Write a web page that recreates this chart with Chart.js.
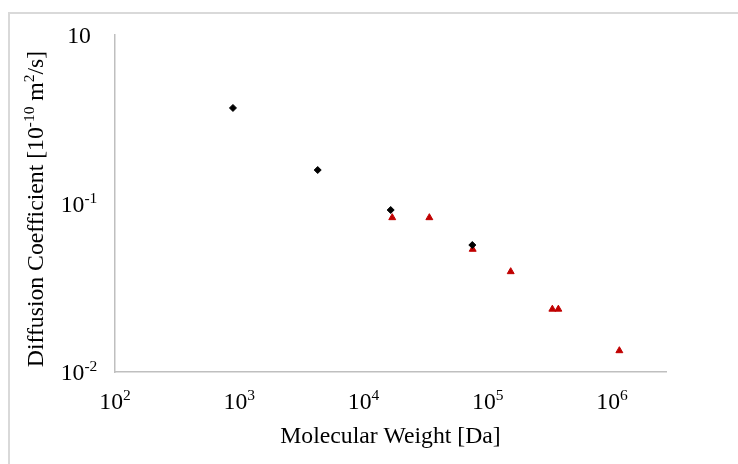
<!DOCTYPE html>
<html lang="en">
<head>
  <meta charset="UTF-8">
  <title>Diffusion Coefficient vs Molecular Weight</title>
  <script src="https://cdn.jsdelivr.net/npm/chart.js@4"></script>
  <style>
    html, body { margin: 0; padding: 0; background: #fff; overflow: hidden; }
    .frame {
      position: absolute; left: 8px; top: 12px; width: 760px; height: 480px;
      border-top: 2px solid #d9d9d9; border-left: 2px solid #d9d9d9;
    }
    .wrap { position: absolute; left: 0; top: 0; width: 738px; height: 464px; }
  </style>
</head>
<body>
  <div class="frame"></div>
  <div class="wrap"><canvas id="chart" width="738" height="464"></canvas></div>

  <script>
    // molecular weight [Da] and diffusion coefficient [1e-10 m2/s]
    const blackMW = [890, 4280, 16550, 75100];
    const blackD = [0.369, 0.158, 0.0915, 0.0567];

    const redMW = [17030, 33880, 75650, 153000, 331000, 370000, 1146000];
    const redD = [0.0824, 0.0824, 0.0535, 0.0394, 0.0236, 0.0236, 0.01338];

    // tick labels are "10" with a superscript exponent
    const xTicks = [1e2, 1e3, 1e4, 1e5, 1e6];
    const xTickExp = ['2', '3', '4', '5', '6'];
    const yTicks = [0.01, 0.1, 1];
    const yTickExp = ['-2', '-1', ''];

    const xTitle = 'Molecular Weight [Da]';
    const yTitleParts = [['Diffusion Coefficient [10', false], ['-10', true], [' m', false], ['2', true], ['/s]', false]];

    const serif = 'Liberation Serif, Times New Roman, serif';
    const F = 23.7;           // base font size
    const S = 15.5;           // superscript size
    const RISE = 9;           // superscript raise

    const toPoints = (xs, ys) => xs.map((x, i) => ({ x: x, y: ys[i] }));

    // draws a run of [text, isSup] parts starting at x, baseline y
    function richWidth(c, parts) {
      let w = 0;
      parts.forEach(([t, sup]) => {
        c.font = (sup ? S : F) + 'px ' + serif;
        w += c.measureText(t).width;
      });
      return w;
    }
    function drawRich(c, parts, x, y) {
      c.textAlign = 'left';
      c.textBaseline = 'alphabetic';
      parts.forEach(([t, sup]) => {
        c.font = (sup ? S : F) + 'px ' + serif;
        c.fillText(t, x, sup ? y - RISE : y);
        x += c.measureText(t).width;
      });
    }

    const richLabels = {
      id: 'richLabels',
      afterDraw(chart) {
        const c = chart.ctx;
        const xs = chart.scales.x, ys = chart.scales.y;
        c.save();
        c.fillStyle = '#000';

        xTicks.forEach((v, i) => {
          const parts = [['10', false], [xTickExp[i], true]];
          const w = richWidth(c, parts);
          drawRich(c, parts, xs.getPixelForValue(v) - w / 2, 409);
        });

        yTicks.forEach((v, i) => {
          const parts = [['10', false], [yTickExp[i], true]];
          const w = richWidth(c, parts);
          drawRich(c, parts, 79 - w / 2, ys.getPixelForValue(v) + 8);
        });

        // rotated y title
        c.translate(42.5, 209);
        c.rotate(-Math.PI / 2);
        const tw = richWidth(c, yTitleParts);
        drawRich(c, yTitleParts, -tw / 2, 0);
        c.restore();
      }
    };

    const ctx = document.getElementById('chart').getContext('2d');
    const chart = new Chart(ctx, {
      type: 'scatter',
      data: {
        datasets: [
          {
            label: 'black',
            data: toPoints(blackMW, blackD),
            pointStyle: 'rectRot',
            pointRadius: 3.5,
            backgroundColor: '#000000',
            borderColor: '#000000',
            borderWidth: 1
          },
          {
            label: 'red',
            data: toPoints(redMW, redD),
            pointStyle: 'triangle',
            pointRadius: 4,
            backgroundColor: '#c00000',
            borderColor: '#c00000',
            borderWidth: 1
          }
        ]
      },
      options: {
        responsive: false,
        animation: false,
        layout: { padding: { left: 0, top: 35, right: 72, bottom: 0 } },
        plugins: { legend: { display: false }, tooltip: { enabled: false } },
        scales: {
          x: {
            type: 'logarithmic',
            min: 100,
            max: 2.72e6,
            grid: { display: false, drawTicks: false },
            border: { display: true, color: '#bfbfbf', width: 1.5 },
            afterBuildTicks: (s) => { s.ticks = xTicks.map(v => ({ value: v })); },
            afterFit: (s) => { s.height = 92; },
            ticks: { display: false },
            title: {
              display: true,
              text: xTitle,
              color: '#000',
              font: { family: serif, size: F },
              padding: { top: 0, bottom: 13 }
            }
          },
          y: {
            type: 'logarithmic',
            min: 0.01,
            max: 1,
            grid: { display: false, drawTicks: false },
            border: { display: true, color: '#bfbfbf', width: 1.5 },
            afterBuildTicks: (s) => { s.ticks = yTicks.map(v => ({ value: v })); },
            afterFit: (s) => { s.width = 115; },
            ticks: { display: false },
            title: { display: false }
          }
        }
      },
      plugins: [richLabels]
    });
  </script>
</body>
</html>
